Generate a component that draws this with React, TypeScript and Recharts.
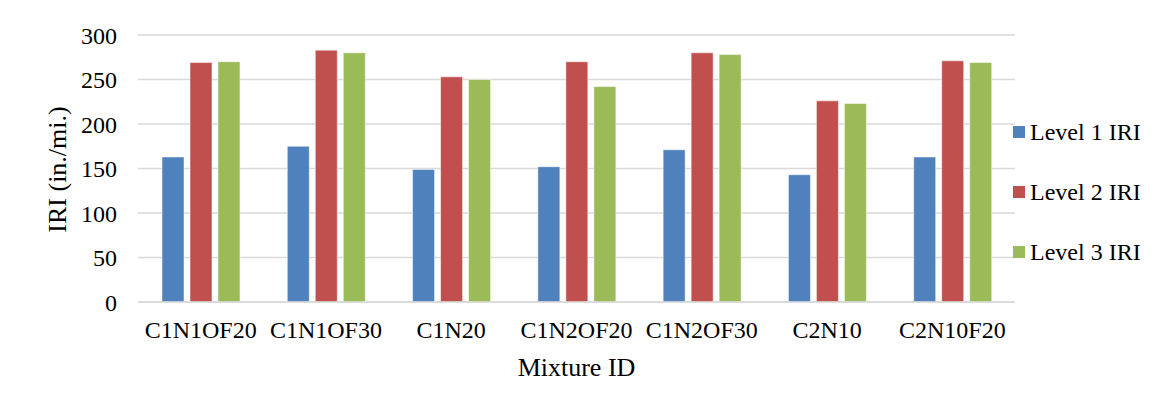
import React from "react";
import { BarChart, Bar, XAxis, YAxis, CartesianGrid } from "recharts";

const mixtures = [
  "C1N1OF20",
  "C1N1OF30",
  "C1N20",
  "C1N2OF20",
  "C1N2OF30",
  "C2N10",
  "C2N10F20",
];
const level1 = [163, 175, 149, 152, 171, 143, 163];
const level2 = [269, 283, 253, 270, 280, 226, 271];
const level3 = [270, 280, 250, 242, 278, 223, 269];
const yTicks = [0, 50, 100, 150, 200, 250, 300];

const series = [
  { key: "level1", name: "Level 1 IRI", color: "#4F81BD" },
  { key: "level2", name: "Level 2 IRI", color: "#C0504D" },
  { key: "level3", name: "Level 3 IRI", color: "#9BBB59" },
];

const data = mixtures.map((m, i) => ({
  mixture: m,
  level1: level1[i],
  level2: level2[i],
  level3: level3[i],
}));

const FONT = "'Liberation Serif', 'Times New Roman', serif";

// legend sits to the right of the plot, stacked with wide row spacing
function LegendBox() {
  return (
    <div
      style={{
        position: "absolute",
        left: 1013,
        top: 102,
        width: 141,
        fontFamily: FONT,
        fontSize: 24,
        color: "#000",
      }}
    >
      {series.map((s) => (
        <div
          key={s.key}
          style={{ height: 60, display: "flex", alignItems: "center" }}
        >
          <span
            style={{
              width: 12,
              height: 12,
              background: s.color,
              display: "inline-block",
              marginRight: 5,
              flexShrink: 0,
            }}
          />
          <span style={{ whiteSpace: "nowrap" }}>{s.name}</span>
        </div>
      ))}
    </div>
  );
}

export default function App() {
  return (
    <div
      style={{
        position: "relative",
        margin: -8,
        width: 1154,
        height: 420,
        background: "#fff",
        fontFamily: FONT,
      }}
    >
      <BarChart
        width={1154}
        height={420}
        data={data}
        margin={{ top: 35, right: 139, left: 58, bottom: 38 }}
        barSize={22}
        barGap={6}
      >
        <CartesianGrid vertical={false} stroke="#D9D9D9" strokeWidth={1.5} />
        <XAxis
          dataKey="mixture"
          height={80}
          tickLine={false}
          tickSize={0}
          tickMargin={19}
          axisLine={{ stroke: "#D9D9D9", strokeWidth: 1.5 }}
          tick={{ fill: "#000", fontSize: 24, fontFamily: FONT }}
          interval={0}
          label={{
            content: ({ viewBox }: any) => (
              <text
                x={viewBox.x + viewBox.width / 2}
                y={viewBox.y + 74}
                textAnchor="middle"
                fontSize={26}
                fontFamily={FONT}
                fill="#000"
              >
                Mixture ID
              </text>
            ),
          }}
        />
        <YAxis
          width={80}
          domain={[0, 300]}
          ticks={yTicks}
          axisLine={false}
          tickLine={false}
          tickSize={0}
          tickMargin={21}
          tick={{ fill: "#000", fontSize: 24, fontFamily: FONT }}
          label={{
            content: ({ viewBox }: any) => {
              const cx = 66;
              const cy = viewBox.y + viewBox.height / 2 + 1;
              return (
                <text
                  x={cx}
                  y={cy}
                  transform={`rotate(-90, ${cx}, ${cy})`}
                  textAnchor="middle"
                  fontSize={26}
                  fontFamily={FONT}
                  fill="#000"
                >
                  IRI (in./mi.)
                </text>
              );
            },
          }}
        />
        {series.map((s) => (
          <Bar
            key={s.key}
            dataKey={s.key}
            name={s.name}
            fill={s.color}
            stroke="#ffffff"
            strokeOpacity={0.5}
            strokeWidth={1}
            isAnimationActive={false}
          />
        ))}
      </BarChart>
      <LegendBox />
      <div
        style={{
          position: "absolute",
          left: 4,
          top: 6,
          width: 1150,
          height: 414,
          boxSizing: "border-box",
          border: "1px solid #D9D9D9",
          pointerEvents: "none",
        }}
      />
    </div>
  );
}
